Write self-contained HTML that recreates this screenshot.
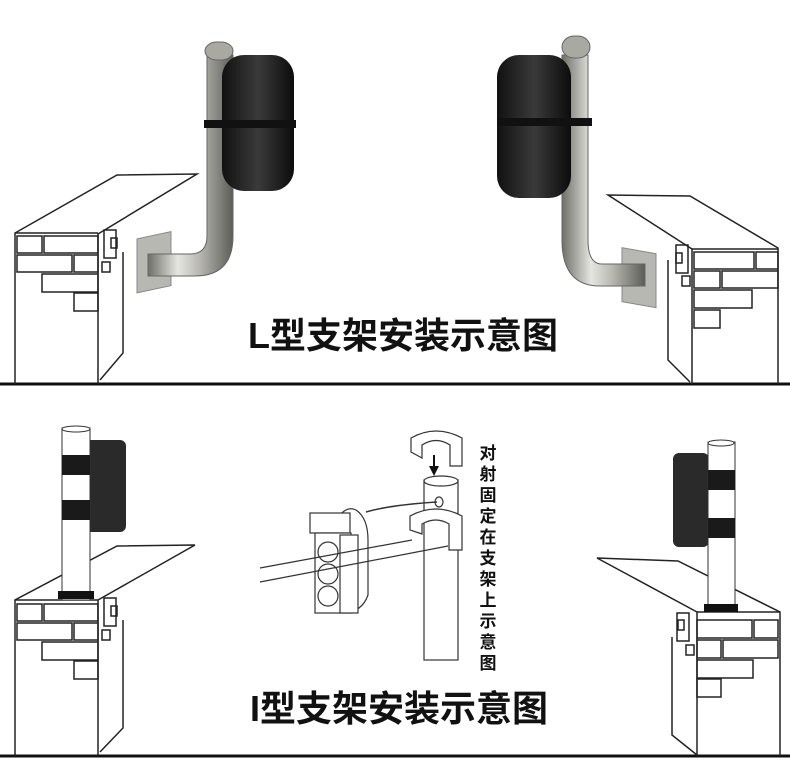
<!DOCTYPE html>
<html><head><meta charset="utf-8"><style>
html,body{margin:0;padding:0;background:#fff}
svg{display:block}
text{font-family:"Liberation Sans","Noto Sans CJK SC",sans-serif}
</style></head><body>
<svg width="790" height="768" viewBox="0 0 790 768" xmlns="http://www.w3.org/2000/svg">
<defs>
<linearGradient id="steel" x1="0" x2="1" y1="0" y2="0">
<stop offset="0" stop-color="#6f6f6a"/><stop offset="0.35" stop-color="#e6e6e0"/><stop offset="0.6" stop-color="#b9b9b2"/><stop offset="1" stop-color="#5d5d58"/></linearGradient>
<linearGradient id="blk" x1="0" x2="1"><stop offset="0" stop-color="#111"/><stop offset="0.5" stop-color="#3a3a3a"/><stop offset="1" stop-color="#0c0c0c"/></linearGradient>
</defs>
<g fill="none" stroke="#222" stroke-width="1.5">
<line x1="0" y1="384" x2="790" y2="384" stroke="#111" stroke-width="3"/>
<polyline points="15,384 15,233 117,175 197,174 98,234"/>
<line x1="15" y1="233" x2="98" y2="233"/>
<line x1="98" y1="233" x2="98" y2="384"/>
<polyline points="123,252 123,353 100,380"/>
<rect x="104" y="230" width="12" height="28"/><rect x="111" y="238" width="6" height="10"/><rect x="102" y="262" width="8" height="10"/>
<rect x="17" y="236" width="25" height="17"/><rect x="44" y="236" width="54" height="17"/>
<rect x="17" y="255" width="55" height="17"/><rect x="74" y="255" width="24" height="17"/>
<rect x="42" y="274" width="56" height="18"/><rect x="74" y="293" width="24" height="18"/>
<polyline points="778,384 778,248 690,196 608,195 692,249"/>
<line x1="692" y1="249" x2="778" y2="249"/>
<line x1="692" y1="249" x2="692" y2="384"/>
<polyline points="668,260 668,360 690,382"/>
<rect x="676" y="245" width="12" height="28"/><rect x="676" y="253" width="6" height="10"/><rect x="682" y="276" width="8" height="10"/>
<rect x="694" y="252" width="60" height="17"/><rect x="756" y="252" width="22" height="17"/>
<rect x="694" y="271" width="26" height="17"/><rect x="722" y="271" width="56" height="17"/>
<rect x="694" y="290" width="58" height="18"/><rect x="694" y="310" width="26" height="18"/>
</g>
<rect x="137" y="236" width="34" height="54" fill="#b8b8b2" stroke="#888" transform="skewY(-12) translate(0,32)"/>
<path d="M207,55 L207,236 Q207,254 190,254 L148,254 L148,276 L195,276 Q233,276 233,236 L233,55 Z" fill="url(#steel)" stroke="#666"/>
<rect x="205" y="42" width="28" height="18" rx="12" fill="#a9a9a2" stroke="#666"/>
<rect x="222" y="55" width="72" height="136" rx="22" fill="url(#blk)"/>
<rect x="204" y="120" width="92" height="8" fill="#111"/>
<rect x="622" y="250" width="34" height="54" fill="#b8b8b2" stroke="#888" transform="skewY(10) translate(0,-112)"/>
<path d="M562,55 L562,240 Q562,286 600,286 L645,286 L645,264 L602,264 Q588,264 588,240 L588,55 Z" fill="url(#steel)" stroke="#666"/>
<rect x="562" y="36" width="28" height="22" rx="12" fill="#a9a9a2" stroke="#666"/>
<rect x="497" y="55" width="74" height="143" rx="22" fill="url(#blk)"/>
<rect x="497" y="118" width="95" height="8" fill="#111"/>
<text x="403" y="348" font-size="36" text-anchor="middle" fill="#111" font-weight="bold">L型支架安装示意图</text>

<line x1="0" y1="756" x2="790" y2="756" stroke="#111" stroke-width="3"/>
<g fill="none" stroke="#222" stroke-width="1.5">
<polyline points="15,756 15,600 117,546 195,545 98,600"/>
<line x1="15" y1="600" x2="98" y2="600"/>
<line x1="98" y1="600" x2="98" y2="756"/>
<polyline points="123,620 123,728 100,752"/>
<rect x="104" y="598" width="12" height="28"/><rect x="111" y="606" width="6" height="10"/><rect x="102" y="630" width="8" height="10"/>
<rect x="17" y="604" width="25" height="17"/><rect x="44" y="604" width="54" height="17"/>
<rect x="17" y="623" width="55" height="17"/><rect x="74" y="623" width="24" height="17"/>
<rect x="42" y="642" width="56" height="18"/><rect x="74" y="661" width="24" height="18"/>
<polyline points="780,756 780,612 678,561 597,558 697,612"/>
<line x1="697" y1="612" x2="780" y2="612"/>
<line x1="697" y1="612" x2="697" y2="756"/>
<polyline points="672,637 672,735 697,755"/>
<rect x="677" y="613" width="12" height="28"/><rect x="678" y="620" width="6" height="10"/><rect x="686" y="645" width="8" height="10"/>
<rect x="697" y="620" width="55" height="18"/><rect x="754" y="620" width="24" height="18"/>
<rect x="697" y="640" width="24" height="18"/><rect x="723" y="640" width="55" height="18"/>
<rect x="697" y="660" width="56" height="18"/><rect x="697" y="679" width="24" height="18"/>
</g>
<rect x="84" y="440" width="42" height="92" rx="6" fill="#2a2a2a"/>
<rect x="62" y="428" width="28" height="172" fill="#fff" stroke="#333"/>
<ellipse cx="76" cy="429" rx="14" ry="3" fill="#fff" stroke="#333"/>
<rect x="62" y="455" width="28" height="20" fill="#1a1a1a"/>
<rect x="62" y="500" width="28" height="20" fill="#1a1a1a"/>
<rect x="58" y="591" width="36" height="8" fill="#111"/>
<rect x="673" y="453" width="36" height="94" rx="6" fill="#2a2a2a"/>
<rect x="708" y="442" width="27" height="170" fill="#fff" stroke="#333"/>
<ellipse cx="721" cy="443" rx="13" ry="3" fill="#fff" stroke="#333"/>
<rect x="708" y="470" width="27" height="20" fill="#1a1a1a"/>
<rect x="708" y="518" width="27" height="20" fill="#1a1a1a"/>
<rect x="704" y="604" width="34" height="8" fill="#111"/>

<g fill="#fff" stroke="#333" stroke-width="1.2">
<path d="M411,452 L411,438 Q436,424 462,438 L462,466 L450,466 L450,445 Q436,436 422,445 L422,458 Z"/>
<rect x="424" y="480" width="34" height="180"/>
<ellipse cx="441" cy="481" rx="17" ry="5"/>
<ellipse cx="439" cy="502" rx="4" ry="5"/>
<path d="M410,530 L410,516 Q436,502 462,516 L462,550 L449,550 L449,524 Q436,516 422,524 L422,534 Z"/>
<path d="M336,520 Q346,505 356,510 Q368,518 368,540 L368,595 Q362,612 345,612 Z"/>
<rect x="310" y="513" width="40" height="20"/>
<rect x="315" y="533" width="36" height="80"/>
<circle cx="328" cy="552" r="10"/><circle cx="328" cy="574" r="10"/><circle cx="328" cy="596" r="10"/>
<rect x="340" y="535" width="18" height="78"/>
</g>
<path d="M366,512 Q390,505 437,502" fill="none" stroke="#333" stroke-width="1.5"/>
<path d="M260,568 L412,540 M260,582 L448,546" fill="none" stroke="#333" stroke-width="1.2"/>
<path d="M433,455 L433,466 L429,466 L434,476 L439,466 L435,466 L435,455 Z" fill="#111"/>
<text font-size="17" fill="#111" text-anchor="middle" font-weight="bold">
<tspan x="488" y="459">对</tspan><tspan x="488" y="480">射</tspan><tspan x="488" y="501">固</tspan><tspan x="488" y="522">定</tspan><tspan x="488" y="543">在</tspan><tspan x="488" y="564">支</tspan><tspan x="488" y="585">架</tspan><tspan x="488" y="606">上</tspan><tspan x="488" y="627">示</tspan><tspan x="488" y="648">意</tspan><tspan x="488" y="669">图</tspan>
</text>
<text x="399" y="721" font-size="36" text-anchor="middle" fill="#111" font-weight="bold">I型支架安装示意图</text>
</svg>
</body></html>
